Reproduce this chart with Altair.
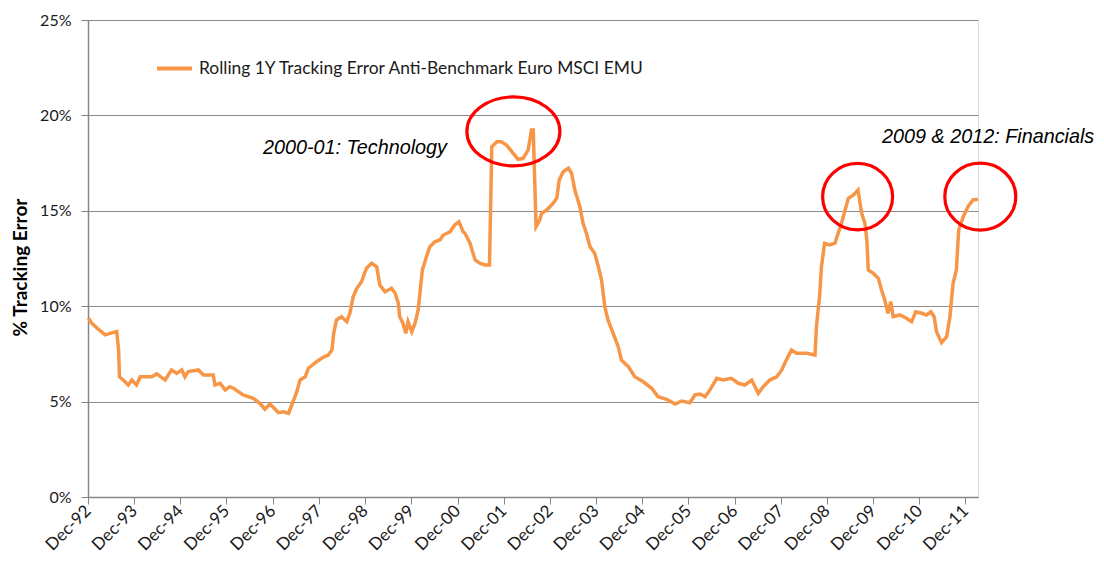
import altair as alt
import pandas as pd
from datetime import datetime, timedelta

# Fractional-year positions (Dec-92 tick = 1993.0) and tracking error (%)
t_years = [1993.01, 1993.08, 1993.22, 1993.37, 1993.51, 1993.62, 1993.66, 1993.68, 1993.80, 1993.87,
           1993.95, 1994.05, 1994.13, 1994.38, 1994.49, 1994.67, 1994.81, 1994.92, 1995.03, 1995.10,
           1995.17, 1995.39, 1995.50, 1995.64, 1995.71, 1995.75, 1995.86, 1995.97, 1996.07, 1996.15,
           1996.36, 1996.58, 1996.72, 1996.83, 1996.94, 1997.05, 1997.12, 1997.23, 1997.34, 1997.41,
           1997.48, 1997.52, 1997.59, 1997.70, 1997.77, 1997.95, 1998.09, 1998.20, 1998.28, 1998.32,
           1998.38, 1998.49, 1998.60, 1998.67, 1998.74, 1998.82, 1998.92, 1999.03, 1999.14, 1999.25,
           1999.32, 1999.43, 1999.57, 1999.65, 1999.72, 1999.75, 1999.82, 1999.88, 1999.93, 2000.01,
           2000.08, 2000.15, 2000.24, 2000.33, 2000.40, 2000.51, 2000.62, 2000.69, 2000.84, 2000.94,
           2001.03, 2001.12, 2001.16, 2001.27, 2001.38, 2001.48, 2001.59, 2001.69, 2001.74, 2001.85,
           2001.95, 2002.06, 2002.21, 2002.31, 2002.42, 2002.53, 2002.60, 2002.64, 2002.70, 2002.78,
           2002.82, 2002.93, 2003.07, 2003.15, 2003.20, 2003.29, 2003.40, 2003.47, 2003.54, 2003.65,
           2003.72, 2003.79, 2003.87, 2003.97, 2004.05, 2004.12, 2004.19, 2004.26, 2004.37, 2004.48,
           2004.55, 2004.70, 2004.84, 2005.02, 2005.20, 2005.34, 2005.53, 2005.71, 2005.85, 2006.03,
           2006.14, 2006.25, 2006.36, 2006.46, 2006.57, 2006.61, 2006.75, 2006.93, 2007.08, 2007.22,
           2007.37, 2007.51, 2007.62, 2007.76, 2007.91, 2008.02, 2008.12, 2008.23, 2008.34, 2008.56,
           2008.74, 2008.77, 2008.84, 2008.88, 2008.95, 2009.06, 2009.17, 2009.24, 2009.31, 2009.39,
           2009.46, 2009.57, 2009.67, 2009.75, 2009.82, 2009.86, 2009.89, 2010.00, 2010.11, 2010.18,
           2010.25, 2010.32, 2010.38, 2010.43, 2010.58, 2010.72, 2010.83, 2010.92, 2011.05, 2011.15,
           2011.25, 2011.32, 2011.37, 2011.48, 2011.59, 2011.66, 2011.73, 2011.80, 2011.85, 2011.95,
           2012.05, 2012.16, 2012.27]

te_pct = [9.37, 9.10, 8.80, 8.50, 8.60, 8.67, 7.70, 6.30, 6.04, 5.87,
          6.13, 5.87, 6.30, 6.30, 6.45, 6.13, 6.66, 6.48, 6.66, 6.30,
          6.57, 6.66, 6.39, 6.39, 6.39, 5.87, 5.96, 5.60, 5.78, 5.70,
          5.35, 5.17, 4.91, 4.60, 4.87, 4.60, 4.42, 4.47, 4.39, 4.82,
          5.26, 5.52, 6.13, 6.30, 6.75, 7.09, 7.32, 7.44, 7.70, 8.58,
          9.28, 9.45, 9.19, 9.63, 10.50, 10.94, 11.28, 11.99, 12.25, 12.07,
          11.11, 10.76, 10.94, 10.68, 10.15, 9.45, 9.10, 8.58, 9.19, 8.66,
          9.10, 9.80, 11.90, 12.60, 13.12, 13.38, 13.47, 13.73, 13.90, 14.26,
          14.43, 13.90, 13.82, 13.30, 12.42, 12.25, 12.16, 12.16, 18.36, 18.62,
          18.62, 18.45, 18.00, 17.70, 17.75, 18.19, 19.23, 19.23, 14.17, 14.52,
          14.87, 15.04, 15.39, 15.66, 16.61, 17.05, 17.23, 16.97, 16.09, 15.21,
          14.34, 13.82, 13.12, 12.77, 12.07, 11.37, 9.97, 9.28, 8.58, 7.88,
          7.18, 6.83, 6.30, 6.04, 5.70, 5.26, 5.12, 4.87, 5.03, 4.94,
          5.35, 5.40, 5.26, 5.60, 6.04, 6.22, 6.13, 6.22, 5.96, 5.87,
          6.13, 5.43, 5.78, 6.13, 6.30, 6.66, 7.18, 7.70, 7.53, 7.53,
          7.44, 8.92, 10.50, 12.07, 13.30, 13.21, 13.30, 13.82, 14.34, 15.04,
          15.65, 15.83, 16.09, 14.87, 14.34, 13.47, 11.90, 11.72, 11.46, 10.85,
          10.32, 9.63, 10.24, 9.45, 9.54, 9.37, 9.19, 9.71, 9.63, 9.54,
          9.71, 9.45, 8.66, 8.09, 8.40, 9.45, 11.20, 11.90, 13.99, 14.69,
          15.21, 15.57, 15.60]

series_name = "Rolling 1Y Tracking Error Anti-Benchmark Euro MSCI EMU"
tick_years = list(range(1992, 2012))
y_ticks = [0, 5, 10, 15, 20, 25]

ann_texts = ["2000-01: Technology", "2009 & 2012: Financials"]
ann_t = [1998.78, 2010.19]
ann_v = [18.0, 18.54]
ann_align = ["center", "left"]

ell_t = [2002.21, 2009.66, 2012.32]
ell_v = [19.16, 15.74, 15.74]
ell_size = [8649, 4900, 5041]
ell_ratio = [0.742, 0.95, 0.944]


def to_date(t):
    y = int(t)
    d = datetime(y, 1, 1) + timedelta(days=(t - y) * 365.25)
    return d.strftime("%Y-%m-%d")


df = pd.DataFrame({"date": [to_date(t) for t in t_years], "te": te_pct, "series": series_name})

x_scale = alt.Scale(type="utc",
                    domain=[alt.DateTime(year=1992, month=12, date=31, utc=True),
                            alt.DateTime(year=2012, month=4, date=8, utc=True)])
y_scale = alt.Scale(domain=[0, 25])

FONT = "Lato"

line = alt.Chart(df).mark_line(strokeWidth=3.5, clip=False).encode(
    x=alt.X("date:T", scale=x_scale, title=None,
            axis=alt.Axis(values=[alt.DateTime(year=y, month=12, date=31, utc=True) for y in tick_years],
                          labelExpr="utcFormat(datum.value, '%b-%y')", labelAngle=-45, labelAlign="right",
                          labelBaseline="middle", labelPadding=4, labelFont=FONT, labelFontSize=17,
                          labelColor="#1a1a1a", tickSize=7, tickColor="#868686", domainColor="#868686",
                          domainWidth=1.5, grid=False, labelOverlap=False)),
    y=alt.Y("te:Q", scale=y_scale, title="% Tracking Error",
            axis=alt.Axis(values=y_ticks, labelExpr="datum.value + '%'", labelFont=FONT, labelFontSize=16,
                          labelColor="#1a1a1a", labelPadding=10, tickSize=7, tickColor="#868686",
                          domainColor="#868686", domainWidth=1.5, grid=True, gridColor="#8c8c8c",
                          gridWidth=1, titleFont=FONT, titleFontSize=19, titleFontWeight="bold",
                          titleColor="#000000", titleX=-68, titleY=247, titleAngle=270,
                          titleAlign="center", titleBaseline="middle")),
    color=alt.Color("series:N", scale=alt.Scale(range=["#F79646"]),
                    legend=alt.Legend(title=None, orient="none", legendX=67, legendY=29,
                                      symbolType="stroke", symbolSize=1225, symbolStrokeWidth=4,
                                      labelFont=FONT, labelFontSize=17.4, labelColor="#1a1a1a",
                                      labelOffset=5, padding=0, labelLimit=700)),
)

layers = [line]

for txt, t, v, al in zip(ann_texts, ann_t, ann_v, ann_align):
    adf = pd.DataFrame({"date": [to_date(t)], "te": [v], "label": [txt]})
    layers.append(
        alt.Chart(adf).mark_text(font="Liberation Sans", fontStyle="italic", fontSize=19.8,
                                 align=al, baseline="alphabetic", color="#000000", clip=False).encode(
            x=alt.X("date:T", scale=x_scale), y=alt.Y("te:Q", scale=y_scale), text="label:N"))

for t, v, s, k in zip(ell_t, ell_v, ell_size, ell_ratio):
    path = f"M -1 0 A 1 {k} 0 1 0 1 0 A 1 {k} 0 1 0 -1 0 Z"
    edf = pd.DataFrame({"date": [to_date(t)], "te": [v]})
    layers.append(
        alt.Chart(edf).mark_point(shape=path, size=s, filled=False, stroke="#FF0000",
                                  strokeWidth=3.2, opacity=1, clip=False).encode(
            x=alt.X("date:T", scale=x_scale), y=alt.Y("te:Q", scale=y_scale)))

chart = alt.layer(*layers).properties(
    width=890, height=477,
    autosize=alt.AutoSizeParams(type="none"),
    padding={"left": 80, "top": 12, "right": 118, "bottom": 56},
).configure_view(stroke=None).configure(background="white")

chart.save("out.html", embed_options={"renderer": "svg", "actions": False})
